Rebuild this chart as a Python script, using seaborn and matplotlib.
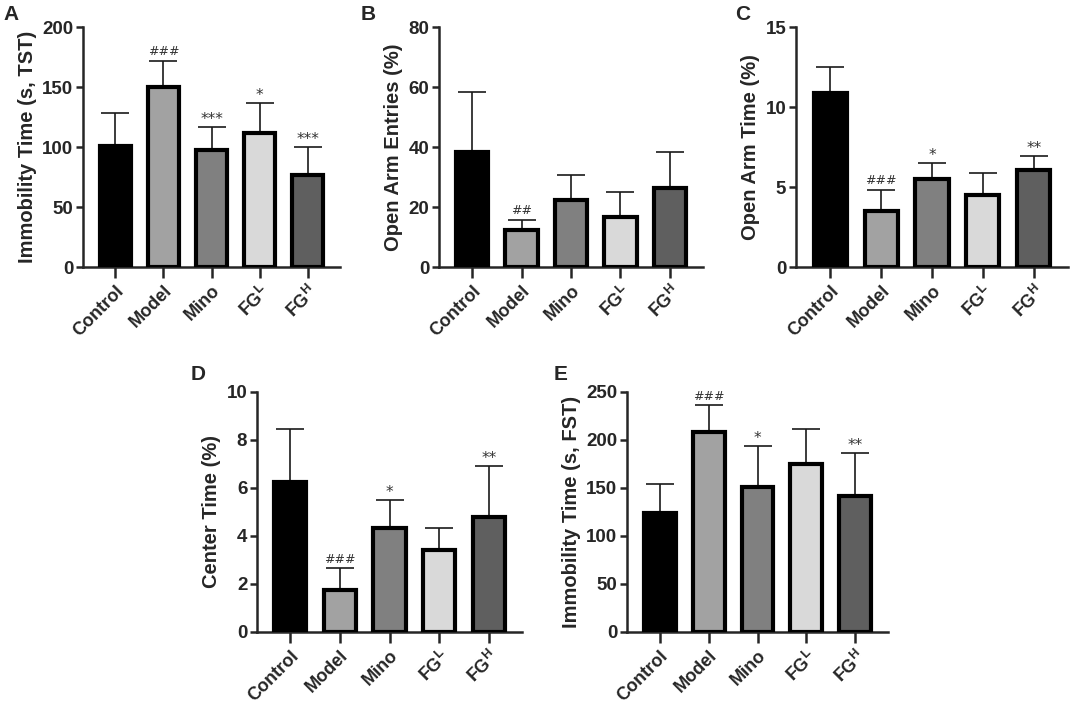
import numpy as np
import pandas as pd
import matplotlib
matplotlib.use("Agg")
import matplotlib.pyplot as plt
import seaborn as sns

# groups and bar colours
groups = ["Control", "Model", "Mino", "FG$^\\mathregular{L}$", "FG$^\\mathregular{H}$"]
colors = ["#000000", "#a2a2a2", "#808080", "#d9d9d9", "#5f5f5f"]

# panel A - tail suspension test
tst_mean = [101, 150, 97.5, 112, 77]
tst_err = [27, 22, 19.5, 25, 23]
tst_sig = ["", "###", "***", "*", "***"]

# panel B - open arm entries
oae_mean = [38.3, 12.3, 22.5, 16.7, 26.5]
oae_err = [19.9, 3.3, 8.1, 8.3, 12.0]
oae_sig = ["", "##", "", "", ""]

# panel C - open arm time
oat_mean = [10.9, 3.5, 5.5, 4.5, 6.06]
oat_err = [1.6, 1.3, 1.0, 1.4, 0.9]
oat_sig = ["", "###", "*", "", "**"]

# panel D - center time
ct_mean = [6.24, 1.74, 4.35, 3.4, 4.8]
ct_err = [2.22, 0.91, 1.14, 0.92, 2.13]
ct_sig = ["", "###", "*", "", "**"]

# panel E - forced swim test
fst_mean = [123.6, 208, 150.7, 175, 142]
fst_err = [30.2, 28, 43.3, 36.5, 44]
fst_sig = ["", "###", "*", "", "**"]

sns.set_style("ticks")
plt.rcParams["font.family"] = ["Liberation Sans", "DejaVu Sans"]
plt.rcParams["mathtext.fontset"] = "custom"
plt.rcParams["mathtext.rm"] = "Liberation Sans"

fig = plt.figure(figsize=(10.72, 7.03), dpi=100)
W, H = 1072, 703


def panel(letter, box, means, errs, sigs, ylabel, ymax, ystep, letter_xy):
    l, r, t, b = box
    ax = fig.add_axes([l / W, (H - b) / H, (r - l) / W, (b - t) / H])
    df = pd.DataFrame({"group": groups, "value": means})
    sns.barplot(data=df, x="group", y="value", hue="group", palette=colors,
                width=0.65, edgecolor="black", linewidth=3, legend=False,
                ax=ax, zorder=3)
    x = np.arange(len(groups))
    ax.errorbar(x, means, yerr=[np.zeros(len(errs)), errs], fmt="none",
                ecolor="#1a1a1a", elinewidth=1.2, capsize=10, capthick=1.2,
                zorder=2)
    for xi, m, e, s in zip(x, means, errs, sigs):
        if s:
            star = s.startswith("*")
            ax.text(xi, m + e + ymax * (0.0 if star else 0.012), s,
                    ha="center", va="bottom",
                    fontsize=11 if star else 9, color="#333333",
                    fontfamily="DejaVu Sans")
    ax.set_xlim(-0.67, 4.67)
    ax.set_ylim(0, ymax)
    ax.set_yticks(np.arange(0, ymax + ystep / 2, ystep))
    ax.set_xlabel("")
    ax.set_ylabel(ylabel, fontsize=14.5, fontweight="bold", labelpad=4)
    ax.set_xticks(x)
    ax.set_xticklabels(groups, rotation=45, ha="right", rotation_mode="anchor",
                       fontsize=13, fontweight="bold")
    for lab in ax.get_yticklabels():
        lab.set_fontweight("bold")
        lab.set_fontsize(13.5)
    ax.tick_params(axis="y", length=5, width=1.8, pad=2)
    ax.tick_params(axis="x", length=8, width=1.8, pad=3)
    sns.despine(ax=ax)
    for sp in ["left", "bottom"]:
        ax.spines[sp].set_linewidth(1.8)
    fig.text(letter_xy[0] / W, 1 - letter_xy[1] / H, letter, fontsize=15,
             fontweight="bold", va="top", ha="left")
    return ax


panel("A", (83, 340, 27, 267), tst_mean, tst_err, tst_sig,
      "Immobility Time (s, TST)", 200, 50, (3, 5))
panel("B", (439, 703, 27, 267), oae_mean, oae_err, oae_sig,
      "Open Arm Entries (%)", 80, 20, (361, 5))
panel("C", (796, 1068, 27, 267), oat_mean, oat_err, oat_sig,
      "Open Arm Time (%)", 15, 5, (735, 5))
panel("D", (257, 522, 392, 632), ct_mean, ct_err, ct_sig,
      "Center Time (%)", 10, 2, (191, 365))
panel("E", (627, 888, 392, 632), fst_mean, fst_err, fst_sig,
      "Immobility Time (s, FST)", 250, 50, (554, 365))

fig.savefig("out.png", dpi=100)
